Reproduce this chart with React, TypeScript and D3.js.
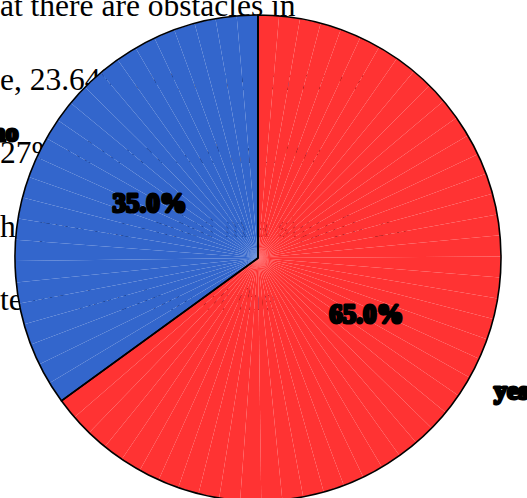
import React, { useEffect, useRef } from 'react';
import * as d3 from 'd3';

// chart data
const categories = ['yes', 'no'];
const values = [65, 35];
const colors = ['#FF3333', '#3366CC'];

// paragraph that sits behind the chart
const paragraphLines = [
  'at there are obstacles in',
  'e, 23.64% of the respondents',
  '27% of them said that the',
  'he process ended in a significant',
  'te the decisions of the',
];

const W = 527;
const H = 498;

const App: React.FC = () => {
  const svgRef = useRef<SVGSVGElement>(null);

  useEffect(() => {
    if (!svgRef.current) return;
    const svg = d3.select(svgRef.current);
    svg.selectAll('*').remove();

    const cx = 258;
    const cy = 258;
    const radius = 243;
    const font = "'Liberation Serif', 'Times New Roman', serif";

    // background text
    svg.append('g')
      .selectAll('text')
      .data(paragraphLines)
      .enter().append('text')
      .attr('x', 0)
      .attr('y', (_, i) => 16 + i * 73.5)
      .style('font-family', font)
      .style('font-size', '31.5px')
      .style('fill', '#000')
      .text(d => d);

    const g = svg.append('g').attr('transform', `translate(${cx},${cy})`);

    const pie = d3.pie<number>().sort(null).value(d => d);
    const arcs = pie(values);

    // each slice is filled with many thin wedges (seams show through)
    const step = (5 * Math.PI) / 180;
    arcs.forEach((a, i) => {
      const span = a.endAngle - a.startAngle;
      const n = Math.max(1, Math.round(span / step));
      const wedges = d3.range(n).map(k => [
        a.startAngle + (span * k) / n,
        a.startAngle + (span * (k + 1)) / n,
      ]);
      g.append('g')
        .selectAll('path')
        .data(wedges)
        .enter().append('path')
        .attr('d', ([s, e]) => {
          const p1 = [radius * Math.sin(s), -radius * Math.cos(s)];
          const p2 = [radius * Math.sin(e), -radius * Math.cos(e)];
          return `M0,0L${p1[0]},${p1[1]}L${p2[0]},${p2[1]}Z`;
        })
        .style('fill', colors[i]);
    });

    // slice outlines
    const arc = d3.arc<d3.PieArcDatum<number>>().innerRadius(0).outerRadius(radius);
    g.selectAll('.outline')
      .data(arcs)
      .enter().append('path')
      .attr('class', 'outline')
      .attr('d', arc)
      .style('fill', 'none')
      .style('stroke', '#000')
      .style('stroke-width', 1.6)
      .style('stroke-linejoin', 'round');

    // percentage labels
    const labelArc = d3.arc<d3.PieArcDatum<number>>()
      .innerRadius(radius * 0.5)
      .outerRadius(radius * 0.5);
    const total = d3.sum(values);
    g.selectAll('.pct')
      .data(arcs)
      .enter().append('text')
      .attr('class', 'pct')
      .attr('transform', d => `translate(${labelArc.centroid(d)})`)
      .attr('text-anchor', 'middle')
      .attr('dy', '0.35em')
      .style('font-family', font)
      .style('font-size', '27px')
      .style('font-weight', 'bold')
      .style('fill', '#000')
      .style('stroke', '#000')
      .style('stroke-width', 3)
      .style('stroke-linejoin', 'round')
      .text(d => `${((d.value / total) * 100).toFixed(1)}%`);

    // category labels outside the pie
    const outerArc = d3.arc<d3.PieArcDatum<number>>()
      .innerRadius(radius * 1.17)
      .outerRadius(radius * 1.17);
    g.selectAll('.cat')
      .data(arcs)
      .enter().append('text')
      .attr('class', 'cat')
      .attr('transform', d => `translate(${outerArc.centroid(d)})`)
      .attr('text-anchor', 'middle')
      .attr('dy', '0.45em')
      .style('font-family', font)
      .style('font-size', '26px')
      .style('font-weight', 'bold')
      .style('fill', '#000')
      .style('stroke', '#000')
      .style('stroke-width', 3)
      .style('stroke-linejoin', 'round')
      .text((_, i) => categories[i]);
  }, []);

  return (
    <svg
      ref={svgRef}
      width={W}
      height={H}
      style={{ position: 'absolute', left: 0, top: 0, background: '#fff' }}
    />
  );
};

export default App;
